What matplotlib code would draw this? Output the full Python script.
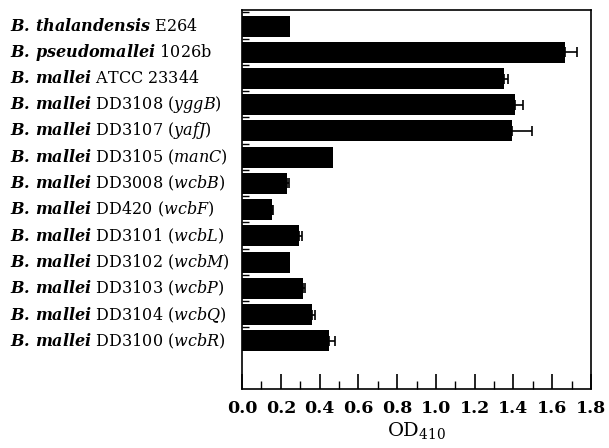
import matplotlib
matplotlib.use("Agg")
import matplotlib.pyplot as plt
import matplotlib.transforms as mtransforms
from matplotlib.ticker import MultipleLocator, FixedLocator
import numpy as np

species = ["B. thalandensis", "B. pseudomallei", "B. mallei", "B. mallei", "B. mallei",
           "B. mallei", "B. mallei", "B. mallei", "B. mallei", "B. mallei",
           "B. mallei", "B. mallei", "B. mallei"]
strains = ["E264", "1026b", "ATCC 23344", "DD3108", "DD3107", "DD3105", "DD3008",
           "DD420", "DD3101", "DD3102", "DD3103", "DD3104", "DD3100"]
genes = ["", "", "", "yggB", "yafJ", "manC", "wcbB", "wcbF", "wcbL", "wcbM",
         "wcbP", "wcbQ", "wcbR"]
od410 = [0.25, 1.665, 1.35, 1.41, 1.39, 0.467, 0.23, 0.153, 0.295, 0.247, 0.313, 0.362, 0.45]
err = [0.0, 0.064, 0.02, 0.04, 0.105, 0.0, 0.014, 0.006, 0.014, 0.0, 0.014, 0.015, 0.03]
xticks = [0.0, 0.2, 0.4, 0.6, 0.8, 1.0, 1.2, 1.4, 1.6, 1.8]

plt.rcParams['font.family'] = ['DejaVu Serif']
plt.rcParams['mathtext.fontset'] = 'dejavuserif'

fig = plt.figure(figsize=(6.09, 4.48), dpi=100)
ax = fig.add_axes([242/609, 1-389/448, (591-242)/609, (389-10)/448])

y = np.arange(len(od410))
ax.barh(y, od410, height=0.8, color='black')
for yi, v, e in zip(y, od410, err):
    if e > 0:
        ax.errorbar(v, yi, xerr=[[0], [e]], fmt='none', ecolor='black',
                    elinewidth=1.2, capsize=3.5, capthick=1.2)

ax.set_xlim(0, 1.8)
ax.set_ylim(13.83, -0.61)
ax.set_xticks(xticks)
ax.set_xticklabels([f"{v:.1f}" for v in xticks], fontsize=12.5, fontweight='bold')
ax.xaxis.set_minor_locator(MultipleLocator(0.1))
ax.tick_params(axis='x', which='major', direction='in', length=11, width=1.2, pad=8)
ax.tick_params(axis='x', which='minor', direction='in', length=6, width=1.0)
ax.set_yticks([])
ax.yaxis.set_minor_locator(FixedLocator(list(np.arange(len(od410)) - 0.52)))
ax.tick_params(axis='y', which='minor', direction='in', length=5, width=1.0)
for s in ax.spines.values():
    s.set_linewidth(1.2)
ax.set_xlabel(r'OD$_{\mathregular{410}}$', fontsize=14, labelpad=2)

trans = mtransforms.blended_transform_factory(fig.transFigure, ax.transData)
for i in range(len(od410)):
    sp = species[i].replace(' ', r'\,')
    txt = r'$\mathbfit{' + sp + '}$ ' + strains[i]
    if genes[i]:
        txt += r' ($\mathit{' + genes[i] + '}$)'
    fig.text(10/609, i, txt, transform=trans, ha='left', va='center',
             fontsize=11.5)

fig.savefig("out.png", dpi=100)
